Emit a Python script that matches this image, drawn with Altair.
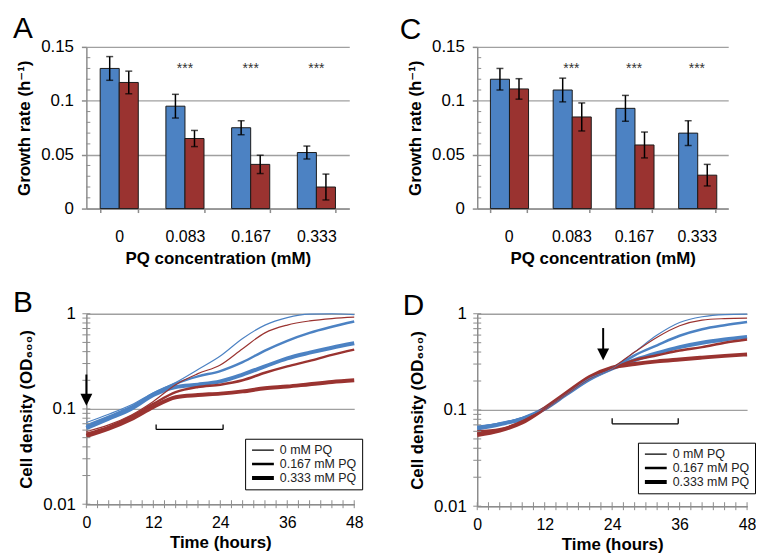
import altair as alt
import pandas as pd

FONT = "Liberation Sans"
TFONT = "Liberation Sans, DejaVu Sans"
GRAY = "#8c8c8c"
GRID = "#a0a0a0"
BLUE = "#4c82c3"
RED = "#9a3330"

# ---------------- bar panels (A, C) ----------------
conc = ["0", "0.083", "0.167", "0.333"]
strains = ["strain 1", "strain 2"]
A_blue = [0.130, 0.095, 0.075, 0.052]
A_blue_err = [0.011, 0.011, 0.0065, 0.006]
A_red = [0.117, 0.065, 0.041, 0.020]
A_red_err = [0.0105, 0.0075, 0.0085, 0.012]
C_blue = [0.120, 0.110, 0.093, 0.070]
C_blue_err = [0.010, 0.011, 0.012, 0.0115]
C_red = [0.111, 0.085, 0.059, 0.031]
C_red_err = [0.0095, 0.013, 0.012, 0.010]
star_conc = ["0.083", "0.167", "0.333"]
star_level = [0.133, 0.133, 0.133]
bar_y_ticks = [0, 0.05, 0.1, 0.15]
bar_minor_ticks = [0.01, 0.02, 0.03, 0.04, 0.06, 0.07, 0.08, 0.09, 0.11, 0.12, 0.13, 0.14]

# ---------------- growth curves (B, D) ----------------
times = [0, 4, 8, 12, 16, 20, 24, 28, 32, 36, 40, 44, 48]
pq_levels = ["0 mM PQ", "0.167 mM PQ", "0.333 mM PQ"]
B_blue_0 = [0.072, 0.088, 0.110, 0.148, 0.190, 0.260, 0.360, 0.550, 0.760, 0.910, 0.990, 1.000, 0.980]
B_red_0 = [0.058, 0.068, 0.086, 0.120, 0.180, 0.235, 0.290, 0.430, 0.630, 0.760, 0.840, 0.890, 0.920]
B_blue_167 = [0.067, 0.083, 0.105, 0.145, 0.185, 0.220, 0.250, 0.310, 0.410, 0.520, 0.630, 0.730, 0.830]
B_blue_333 = [0.063, 0.079, 0.100, 0.140, 0.170, 0.180, 0.195, 0.230, 0.280, 0.340, 0.390, 0.440, 0.490]
B_red_167 = [0.055, 0.065, 0.083, 0.113, 0.150, 0.170, 0.180, 0.200, 0.240, 0.280, 0.320, 0.370, 0.420]
B_red_333 = [0.052, 0.062, 0.078, 0.105, 0.133, 0.140, 0.145, 0.153, 0.165, 0.172, 0.182, 0.192, 0.200]
D_blue_0 = [0.068, 0.073, 0.083, 0.104, 0.150, 0.215, 0.270, 0.400, 0.600, 0.810, 0.930, 0.980, 0.990]
D_red_0 = [0.058, 0.062, 0.075, 0.104, 0.152, 0.220, 0.275, 0.400, 0.570, 0.750, 0.860, 0.890, 0.900]
D_blue_167 = [0.066, 0.072, 0.082, 0.103, 0.148, 0.210, 0.270, 0.370, 0.470, 0.590, 0.690, 0.760, 0.820]
D_blue_333 = [0.064, 0.071, 0.081, 0.103, 0.148, 0.210, 0.270, 0.330, 0.390, 0.450, 0.500, 0.540, 0.575]
D_red_167 = [0.060, 0.063, 0.076, 0.104, 0.150, 0.215, 0.270, 0.330, 0.370, 0.415, 0.450, 0.500, 0.540]
D_red_333 = [0.055, 0.061, 0.074, 0.104, 0.152, 0.220, 0.275, 0.300, 0.320, 0.335, 0.350, 0.365, 0.378]
time_ticks = [0, 2, 4, 6, 8, 10, 12, 14, 16, 18, 20, 22, 24, 26, 28, 30, 32, 34, 36, 38, 40, 42, 44, 46, 48]
od_ticks = [0.01, 0.02, 0.03, 0.04, 0.05, 0.06, 0.07, 0.08, 0.09, 0.1,
            0.2, 0.3, 0.4, 0.5, 0.6, 0.7, 0.8, 0.9, 1]
B_arrow = {"time": [0], "top": [0.23], "head": [0.125]}
D_arrow = {"time": [22.4], "top": [0.71], "head": [0.378]}
B_bracket = {"start": 12.5, "end": 24.5, "top": 0.0687, "bottom": 0.061}
D_bracket = {"start": 24.0, "end": 35.75, "top": 0.082, "bottom": 0.0718}

color_enc = alt.Color("strain:N", scale=alt.Scale(domain=strains, range=[BLUE, RED]), legend=None)


def letter_layer(letter, lx, ly):
    return alt.Chart(pd.DataFrame({"t": [letter]})).mark_text(
        fontSize=30, align="left", baseline="alphabetic", font=FONT, color="black"
    ).encode(text="t:N", x=alt.value(lx), y=alt.value(ly))


def bar_panel(letter, blue, blue_err, red, red_err, width, height, lx, ly):
    rows = []
    for i, c in enumerate(conc):
        rows.append({"conc": c, "strain": strains[0], "value": blue[i],
                     "lo": blue[i] - blue_err[i], "hi": blue[i] + blue_err[i]})
        rows.append({"conc": c, "strain": strains[1], "value": red[i],
                     "lo": red[i] - red_err[i], "hi": red[i] + red_err[i]})
    df = pd.DataFrame(rows)
    ysc = alt.Scale(domain=[0, 0.15], nice=False)
    xsc = alt.Scale(paddingInner=0.42, paddingOuter=0.21)
    xax = alt.Axis(labelAngle=0, tickBand="extent", tickSize=4, labelPadding=16,
                   titlePadding=6, grid=False)
    yax = alt.Axis(values=bar_y_ticks, format=".2~f", grid=True, tickSize=5,
                   labelPadding=8, titlePadding=7)
    xtitle = "PQ concentration (mM)"
    ytitle = "Growth rate (h⁻¹)"

    def X():
        return alt.X("conc:N", sort=conc, title=xtitle, scale=xsc, axis=xax)

    def Y(field):
        return alt.Y(field, scale=ysc, title=ytitle, axis=yax)

    xoff = alt.XOffset("strain:N", sort=strains, scale=alt.Scale(paddingInner=0, paddingOuter=0))
    bars = alt.Chart(df).mark_bar(stroke="#1a1a1a", strokeWidth=1).encode(
        x=X(), xOffset=xoff, y=Y("value:Q"), color=color_enc)
    err = alt.Chart(df).mark_rule(color="black", strokeWidth=1.5).encode(
        x=X(), xOffset=xoff, y=Y("lo:Q"), y2="hi:Q")
    cap_lo = alt.Chart(df).mark_tick(color="black", thickness=1.5, size=7).encode(
        x=X(), xOffset=xoff, y=Y("lo:Q"))
    cap_hi = alt.Chart(df).mark_tick(color="black", thickness=1.5, size=7).encode(
        x=X(), xOffset=xoff, y=Y("hi:Q"))
    stars = alt.Chart(pd.DataFrame({"conc": star_conc, "value": star_level, "s": ["***"] * 3})).mark_text(
        fontSize=14, baseline="alphabetic", dy=8, font=FONT, color="#333333"
    ).encode(x=X(), y=Y("value:Q"), text="s:N")
    minor = alt.Chart(pd.DataFrame({"value": bar_minor_ticks})).mark_rule(color=GRAY, strokeWidth=1).encode(
        y=Y("value:Q"), x=alt.value(0), x2=alt.value(4))
    return alt.layer(bars, err, cap_lo, cap_hi, stars, minor, letter_layer(letter, lx, ly)).properties(
        width=width, height=height)


def line_panel(letter, series, width, height, arrow, bracket, legx, legy, lx, ly):
    rows = []
    for strain, level, vals in series:
        for t, v in zip(times, vals):
            rows.append({"time": t, "od": v, "strain": strain, "pq": level})
    df = pd.DataFrame(rows)
    xsc = alt.Scale(domain=[0, 48], nice=False)
    ysc = alt.Scale(type="log", domain=[0.01, 1], nice=False)
    xax = alt.Axis(values=[0, 12, 24, 36, 48], ticks=False, grid=False, labelFlush=False,
                   labelPadding=10, titlePadding=5)
    yax = alt.Axis(values=[0.01, 0.1, 1], format="~g", ticks=False, grid=True,
                   labelPadding=11, titlePadding=7)

    def X(field="time:Q"):
        return alt.X(field, scale=xsc, title="Time (hours)", axis=xax)

    def Y(field="od:Q"):
        return alt.Y(field, scale=ysc, title="Cell density (OD₆₀₀)", axis=yax)

    lines = alt.Chart(df).mark_line(interpolate="monotone").encode(
        x=X(), y=Y(), color=color_enc,
        strokeWidth=alt.StrokeWidth(
            "pq:O", sort=pq_levels,
            scale=alt.Scale(type="ordinal", domain=pq_levels, range=[1.2, 2.5, 4]),
            legend=alt.Legend(orient="none", legendX=legx, legendY=legy, title=None,
                              symbolType="stroke", symbolSize=484, symbolStrokeColor="black",
                              clipHeight=13, labelFontSize=12.5, labelFont=FONT, labelOffset=4,
                              padding=5, strokeColor="black", fillColor="white", rowPadding=1,
                              labelColor="#222222")))
    xt = alt.Chart(pd.DataFrame({"time": time_ticks})).mark_rule(color=GRAY).encode(
        x=X(), y=alt.value(height - 4), y2=alt.value(height + 4))
    yt = alt.Chart(pd.DataFrame({"od": od_ticks})).mark_rule(color=GRAY).encode(
        y=Y(), x=alt.value(-4), x2=alt.value(4))
    adf = pd.DataFrame(arrow)
    shaft = alt.Chart(adf).mark_rule(color="black", strokeWidth=2).encode(
        x=X(), y=Y("top:Q"), y2="head:Q")
    head = alt.Chart(adf).mark_point(shape="M-1,-1L1,-1L0,1Z", filled=True, color="black",
                                     opacity=1, size=144).encode(x=X(), y=Y("head:Q"))
    bdf_h = pd.DataFrame({"time": [bracket["start"]], "time2": [bracket["end"]], "od": [bracket["bottom"]]})
    bdf_v = pd.DataFrame({"time": [bracket["start"], bracket["end"]],
                          "od": [bracket["top"]] * 2, "od2": [bracket["bottom"]] * 2})
    br_h = alt.Chart(bdf_h).mark_rule(color="black", strokeWidth=1.3).encode(
        x=X(), x2="time2:Q", y=Y())
    br_v = alt.Chart(bdf_v).mark_rule(color="black", strokeWidth=1.3).encode(
        x=X(), y=Y(), y2="od2:Q")
    return alt.layer(lines, xt, yt, br_h, br_v, shaft, head, letter_layer(letter, lx, ly)).properties(
        width=width, height=height)


panel_A = bar_panel("A", A_blue, A_blue_err, A_red, A_red_err, 265, 163, -74, -9)
panel_C = bar_panel("C", C_blue, C_blue_err, C_red, C_red_err, 253, 163, -78, -8)
panel_B = line_panel("B", [
    (strains[0], pq_levels[2], B_blue_333), (strains[1], pq_levels[2], B_red_333),
    (strains[0], pq_levels[1], B_blue_167), (strains[1], pq_levels[1], B_red_167),
    (strains[0], pq_levels[0], B_blue_0), (strains[1], pq_levels[0], B_red_0)],
    270, 192, B_arrow, B_bracket, 160, 126, -74, -2)
panel_D = line_panel("D", [
    (strains[0], pq_levels[2], D_blue_333), (strains[1], pq_levels[2], D_red_333),
    (strains[0], pq_levels[1], D_blue_167), (strains[1], pq_levels[1], D_red_167),
    (strains[0], pq_levels[0], D_blue_0), (strains[1], pq_levels[0], D_red_0)],
    272, 194, D_arrow, D_bracket, 162, 130, -75, 1)

chart = alt.concat(
    panel_A, panel_C, panel_B, panel_D, columns=2,
    spacing={"row": 106, "column": 124}, bounds="flush", align="each"
).resolve_scale(
    x="independent", y="independent", strokeWidth="independent"
).resolve_legend(
    strokeWidth="independent"
).properties(
    padding={"left": 5, "top": 4, "right": 0, "bottom": 0}
).configure_view(stroke=None).configure_axis(
    domainColor=GRAY, domainWidth=1.5, tickColor=GRAY, tickWidth=1.5,
    gridColor=GRID, gridWidth=1.3, labelFont=FONT, titleFont=TFONT,
    labelColor="black", titleColor="black", titleFontWeight="bold", titleFontSize=17
).configure_axisX(labelFontSize=16).configure_axisY(labelFontSize=17).configure_legend(
    symbolBaseStrokeColor="black"
)

chart.save("out.html", embed_options={"renderer": "svg", "actions": False})
